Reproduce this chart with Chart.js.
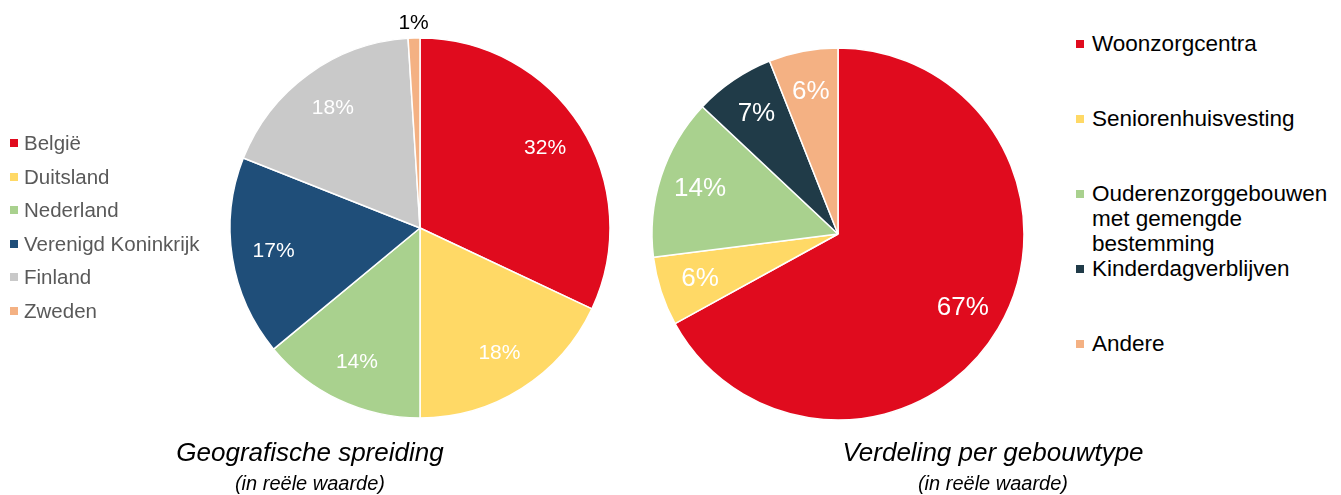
<!DOCTYPE html>
<html lang="nl">
<head>
<meta charset="UTF-8">
<title>Geografische spreiding en verdeling per gebouwtype</title>
<script src="https://cdn.jsdelivr.net/npm/chart.js"></script>
<style>
  body {
    margin: 0;
    width: 1341px;
    height: 495px;
    position: relative;
    background: #fff;
    font-family: "Liberation Sans", Arial, sans-serif;
    overflow: hidden;
  }
  .pie { position: absolute; }
  #geoWrap { left: 200px; top: 0; width: 440px; height: 456px; }
  #typeWrap { left: 638px; top: 0; width: 400px; height: 468px; }

  .legend { position: absolute; list-style: none; margin: 0; padding: 0; }
  .legend li { position: relative; white-space: nowrap; }
  .legend .box { position: absolute; width: 8px; height: 8px; }

  #geoLegend { left: 10px; top: 131px; color: #595959; font-size: 20.5px; }
  #geoLegend li { height: 33.6px; line-height: 24px; padding-left: 14px; }
  #geoLegend .box { left: 0; top: 8px; }

  #typeLegend { left: 1076px; top: 31px; color: #000; font-size: 22.5px; width: 255px; }
  #typeLegend li { height: 75px; line-height: 25px; padding-left: 16px; white-space: normal; }
  #typeLegend .box { left: 0; top: 9px; }

  .title { position: absolute; text-align: center; font-style: italic; color: #000; }
  .title .main { font-size: 26px; line-height: 30px; }
  .title .sub { font-size: 20px; line-height: 24px; margin-top: 4px; }
  #geoTitle { left: 140px; top: 437px; width: 340px; }
  #typeTitle { left: 800px; top: 437px; width: 386px; }
</style>
</head>
<body>

<div class="pie" id="geoWrap"><canvas id="geoChart"></canvas></div>
<div class="pie" id="typeWrap"><canvas id="typeChart"></canvas></div>

<ul class="legend" id="geoLegend"></ul>
<ul class="legend" id="typeLegend"></ul>

<div class="title" id="geoTitle"><div class="main">Geografische spreiding</div><div class="sub">(in reële waarde)</div></div>
<div class="title" id="typeTitle"><div class="main">Verdeling per gebouwtype</div><div class="sub">(in reële waarde)</div></div>

<script>
// Data
const geoLabels = ['België', 'Duitsland', 'Nederland', 'Verenigd Koninkrijk', 'Finland', 'Zweden'];
const geoValues = [32, 18, 14, 17, 18, 1];
const geoColors = ['#E00B1E', '#FFD966', '#A9D18E', '#1F4E79', '#C9C9C9', '#F4B183'];

const typeLabels = ['Woonzorgcentra', 'Seniorenhuisvesting', 'Ouderenzorggebouwen met gemengde bestemming', 'Kinderdagverblijven', 'Andere'];
const typeValues = [67, 6, 14, 7, 6];
const typeColors = ['#E00B1E', '#FFD966', '#A9D18E', '#203B48', '#F4B183'];

// Percentage labels drawn on the slices (small slices go outside)
const sliceLabels = {
  id: 'sliceLabels',
  afterDatasetsDraw(chart, args, opts) {
    const ctx = chart.ctx;
    const meta = chart.getDatasetMeta(0);
    const data = chart.data.datasets[0].data;
    ctx.save();
    ctx.font = opts.fontSize + 'px "Liberation Sans", Arial, sans-serif';
    ctx.textAlign = 'center';
    ctx.textBaseline = 'middle';
    meta.data.forEach((arc, i) => {
      const mid = (arc.startAngle + arc.endAngle) / 2;
      const outside = data[i] < 3;
      const r = outside ? arc.outerRadius + 15 : arc.outerRadius * 0.78;
      ctx.fillStyle = outside ? '#000' : '#fff';
      ctx.fillText(data[i] + '%', arc.x + Math.cos(mid) * r, arc.y + Math.sin(mid) * r);
    });
    ctx.restore();
  }
};

function pieOptions(radius, fontSize) {
  return {
    responsive: true,
    maintainAspectRatio: false,
    animation: false,
    radius: radius,
    layout: { padding: 0 },
    plugins: {
      legend: { display: false },
      tooltip: { enabled: false },
      sliceLabels: { fontSize: fontSize }
    }
  };
}

new Chart(document.getElementById('geoChart'), {
  type: 'pie',
  data: {
    labels: geoLabels,
    datasets: [{ data: geoValues, backgroundColor: geoColors, borderColor: '#fff', borderWidth: 1.5 }]
  },
  options: pieOptions(190, 21),
  plugins: [sliceLabels]
});

new Chart(document.getElementById('typeChart'), {
  type: 'pie',
  data: {
    labels: typeLabels,
    datasets: [{ data: typeValues, backgroundColor: typeColors, borderColor: '#fff', borderWidth: 1.5 }]
  },
  options: pieOptions(186, 26),
  plugins: [sliceLabels]
});

// HTML legends
function buildLegend(id, labels, colors) {
  const ul = document.getElementById(id);
  labels.forEach((label, i) => {
    const li = document.createElement('li');
    const box = document.createElement('span');
    box.className = 'box';
    box.style.background = colors[i];
    li.appendChild(box);
    li.appendChild(document.createTextNode(label));
    ul.appendChild(li);
  });
}
buildLegend('geoLegend', geoLabels, geoColors);
buildLegend('typeLegend', typeLabels, typeColors);
</script>

</body>
</html>
